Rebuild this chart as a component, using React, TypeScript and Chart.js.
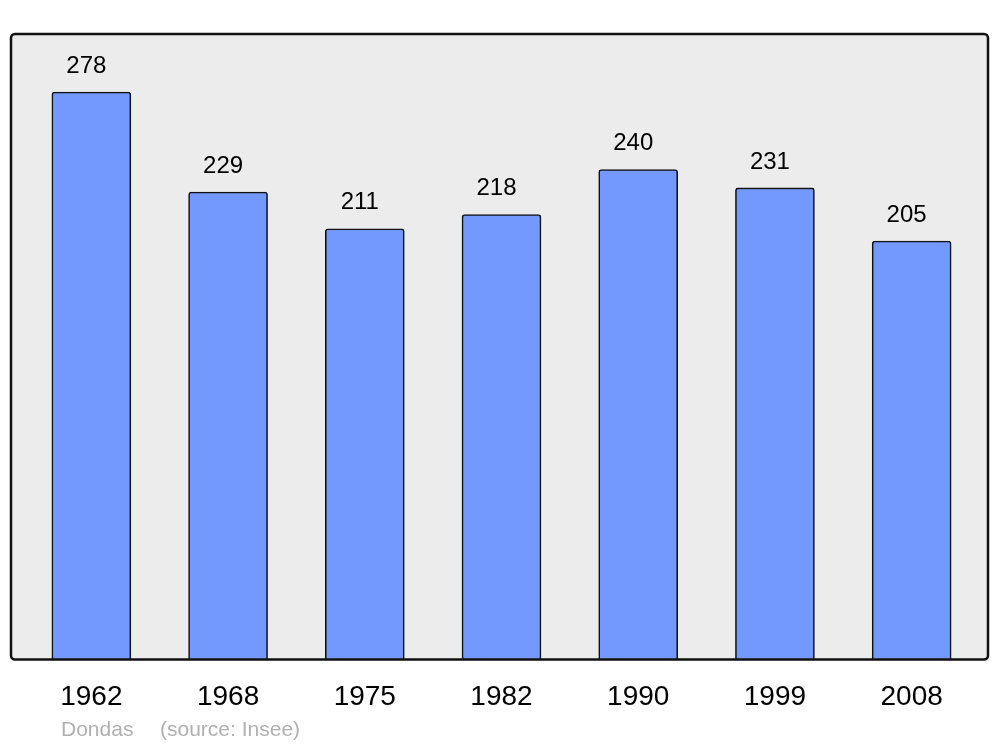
import React, { useEffect, useRef } from "react";
import { Chart, registerables } from "chart.js";

Chart.register(...registerables);

const years = ["1962", "1968", "1975", "1982", "1990", "1999", "2008"];
const population = [278, 229, 211, 218, 240, 231, 205];
const footerAuthor = "Dondas";
const footerSource = "(source: Insee)";

const FONT = "'Liberation Sans', Arial, sans-serif";

const framePlugin = {
  id: "frame",
  beforeDraw(chart: any) {
    const { ctx, chartArea } = chart;
    const l = chartArea.left - 12;
    const r = chartArea.right + 8;
    const t = chartArea.top;
    const b = chartArea.bottom;
    ctx.save();
    ctx.beginPath();
    ctx.roundRect(l, t, r - l, b - t, 4);
    ctx.fillStyle = "#ececec";
    ctx.fill();
    ctx.restore();
  },
  afterDatasetsDraw(chart: any) {
    const { ctx, chartArea } = chart;
    const l = chartArea.left - 12;
    const r = chartArea.right + 8;
    const t = chartArea.top;
    const b = chartArea.bottom;
    ctx.save();
    ctx.beginPath();
    ctx.roundRect(l, t, r - l, b - t, 4);
    ctx.lineWidth = 2.5;
    ctx.strokeStyle = "#111";
    ctx.stroke();
    // value labels
    const meta = chart.getDatasetMeta(0);
    ctx.fillStyle = "#000";
    ctx.font = `24px ${FONT}`;
    ctx.textAlign = "center";
    ctx.textBaseline = "middle";
    meta.data.forEach((bar: any, i: number) => {
      ctx.fillText(String(population[i]), bar.x - 5, bar.y - 26);
    });
    // footer
    ctx.fillStyle = "#b0b0b0";
    ctx.font = `21px ${FONT}`;
    ctx.textAlign = "left";
    ctx.fillText(footerAuthor, 61, 730);
    ctx.fillText(footerSource, 160, 730);
    ctx.restore();
  },
};

export default function App() {
  const ref = useRef<HTMLCanvasElement>(null);
  useEffect(() => {
    if (!ref.current) return;
    const chart = new Chart(ref.current, {
      type: "bar",
      data: {
        labels: years,
        datasets: [
          {
            data: population,
            backgroundColor: "#7399ff",
            borderColor: "#111",
            borderWidth: 1.6,
            borderRadius: 3,
            barThickness: 79,
          },
        ],
      },
      options: {
        responsive: false,
        animation: false,
        layout: { padding: { left: 23, right: 20, top: 34, bottom: 12 } },
        plugins: { legend: { display: false }, tooltip: { enabled: false } },
        scales: {
          x: {
            grid: { display: false, drawTicks: false },
            border: { display: false },
            ticks: { color: "#000", font: { size: 28, family: FONT, lineHeight: 1.34 }, padding: 19 },
          },
          y: { display: false, min: 0, max: 306.4 },
        },
      },
      plugins: [framePlugin],
    });
    return () => chart.destroy();
  }, []);
  return (
    <div style={{ position: "absolute", left: 0, top: 0, width: 1000, height: 747, background: "#fff" }}>
      <canvas ref={ref} width={1000} height={747} />
    </div>
  );
}
